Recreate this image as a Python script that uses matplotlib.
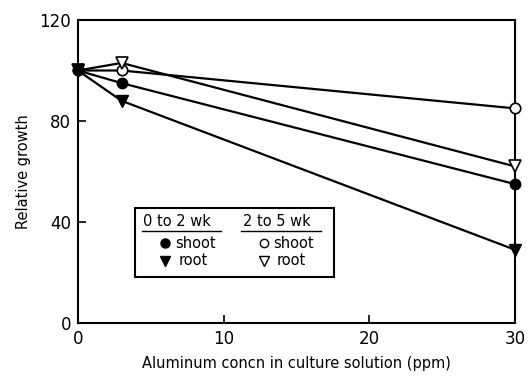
import matplotlib.pyplot as plt
from matplotlib.patches import Rectangle

# Aluminum concentration (ppm)
conc = [0, 3, 30]

# relative growth
shoot_0_2 = [100, 95, 55]
root_0_2 = [100, 88, 29]
shoot_2_5 = [100, 100, 85]
root_2_5 = [100, 103, 62]

xticks = [0, 10, 20, 30]
yticks = [0, 40, 80, 120]

fig = plt.figure(figsize=(5.3, 3.77), dpi=100)
ax = fig.add_axes([0.147, 0.143, 0.825, 0.804])

lw = 1.6
ax.plot(conc, shoot_2_5, color="black", lw=lw, marker="o", ms=7.5,
        mfc="white", mec="black", mew=1.2, clip_on=False, zorder=3)
ax.plot(conc, root_2_5, color="black", lw=lw, marker="v", ms=8,
        mfc="white", mec="black", mew=1.2, clip_on=False, zorder=3)
ax.plot(conc, shoot_0_2, color="black", lw=lw, marker="o", ms=7.5,
        mfc="black", mec="black", clip_on=False, zorder=4)
ax.plot(conc, root_0_2, color="black", lw=lw, marker="v", ms=8,
        mfc="black", mec="black", clip_on=False, zorder=4)

ax.set_xlim(0, 30)
ax.set_ylim(0, 120)
ax.set_xticks(xticks)
ax.set_yticks(yticks)
ax.set_xticklabels(["0", "10", "20", "30"])
ax.set_yticklabels(["0", "40", "80", "120"])
ax.tick_params(direction="in", length=6, width=1.2, labelsize=12, pad=5)
for s in ax.spines.values():
    s.set_linewidth(1.5)

ax.set_xlabel("Aluminum concn in culture solution (ppm)", fontsize=10.5, labelpad=6)
ax.set_ylabel("Relative growth", fontsize=10.5, labelpad=6)

# hand-drawn style legend box
box = Rectangle((3.9, 18.2), 13.7, 27.3, fill=False, lw=1.5, ec="black", zorder=5)
ax.add_patch(box)
hdr_y = 40.3
ax.text(4.5, hdr_y, "0 to 2 wk", fontsize=10.5, va="center", ha="left", zorder=6)
ax.text(11.3, hdr_y, "2 to 5 wk", fontsize=10.5, va="center", ha="left", zorder=6)
ax.plot([4.4, 9.8], [36.6, 36.6], color="black", lw=1)
ax.plot([11.2, 16.7], [36.6, 36.6], color="black", lw=1)
ax.plot([6.0], [31.7], marker="o", ms=6.5, color="black", ls="none")
ax.plot([6.0], [24.6], marker="v", ms=7, color="black", ls="none")
ax.plot([12.8], [31.7], marker="o", ms=6, mfc="white", mec="black", ls="none")
ax.plot([12.8], [24.6], marker="v", ms=7, mfc="white", mec="black", ls="none")
ax.text(6.7, 31.7, "shoot", fontsize=10.5, va="center", ha="left")
ax.text(6.9, 24.6, "root", fontsize=10.5, va="center", ha="left")
ax.text(13.4, 31.7, "shoot", fontsize=10.5, va="center", ha="left")
ax.text(13.6, 24.6, "root", fontsize=10.5, va="center", ha="left")

fig.savefig("out.png", dpi=100)
